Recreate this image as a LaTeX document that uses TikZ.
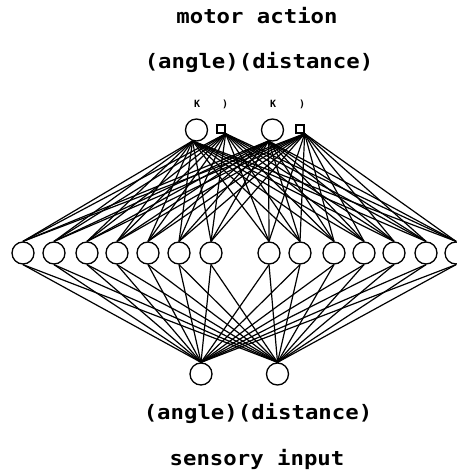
\documentclass[tikz,border=0pt]{standalone}
\usepackage{fontspec}
\setmonofont{DejaVu Sans Mono}
\newfontfamily\capfont[FakeStretch=1.12]{DejaVu Sans Mono}
\usetikzlibrary{calc}

\begin{document}
\begin{tikzpicture}[
x=1bp, y=-1bp,
unit/.style = {draw, circle, minimum size=22bp, inner sep=0pt, line width=1.3bp},
gate/.style = {draw, rectangle, minimum size=8bp, inner sep=0pt, line width=1.3bp},
caption/.style = {font=\capfont\bfseries\fontsize{20}{22}\selectfont, anchor=base},
tick/.style = {font=\ttfamily\bfseries\fontsize{10}{10}\selectfont},
link/.style = {line width=1.2bp},
]
\useasboundingbox (0,0) rectangle (457,473);

\node (motor) [caption] at (257,24) {motor action};
\node (outlabel) [caption] at (259,69) {(angle)(distance)};
\node (inlabel) [caption] at (258,419) {(angle)(distance)};
\node (sensory) [caption] at (257,465) {sensory input};

\node (o1) [unit] at (196.5,130) {};
\node (s1) [gate] at (221,129) {};
\node (o2) [unit] at (272.5,130) {};
\node (s2) [gate] at (300,129) {};

\node (k1) [tick] at (197,104) {K};
\node (p1) [tick] at (225,104) {)};
\node (k2) [tick] at (273,104) {K};
\node (p2) [tick] at (302,104) {)};

\foreach \x [count=\i] in {23,54,87,117,148,179,211,269,300,334,364,394,426,456}
  \node (h\i) [unit] at (\x,253) {};

\node (i1) [unit] at (201,374) {};
\node (i2) [unit] at (277.5,374) {};

\foreach \i in {1,...,14} {
  \draw[link] (i1.north) -- (h\i.south);
  \draw[link] (i2.north) -- (h\i.south);
  \draw[link] (h\i.north) -- (o1.-110);
  \draw[link] (h\i.north) -- (s1.south east);
  \draw[link] (h\i.north) -- (o2.-110);
  \draw[link] (h\i.north) -- (s2.south east);
}

\end{tikzpicture}
\end{document}
